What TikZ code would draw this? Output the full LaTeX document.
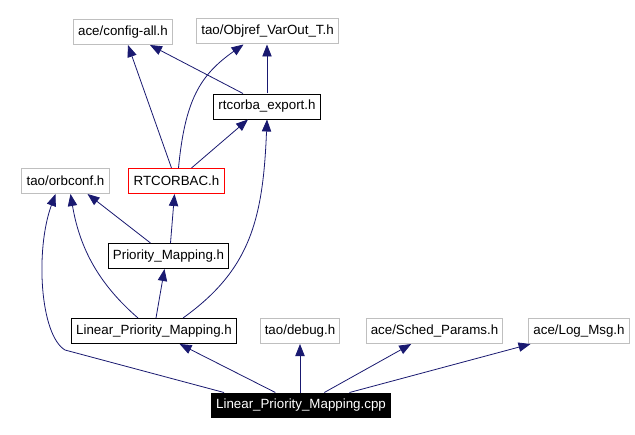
\documentclass[tikz,border=0pt]{standalone}
\usepackage{fontspec}
\setmainfont{Liberation Sans}
\usepackage{tikz}
\usetikzlibrary{positioning}
\usetikzlibrary{calc}
\usetikzlibrary{arrows.meta}
\definecolor{edgeblue}{RGB}{25,25,112}
\definecolor{extgray}{RGB}{191,191,191}
\tikzstyle{file} = [rectangle, minimum height=18.75pt, inner ysep=0pt, inner xsep=3.5pt, line width=0.75pt, font=\fontsize{10pt}{12pt}\selectfont]
\tikzstyle{block} = [file, draw=black]
\tikzstyle{ext} = [file, draw=extgray]
\tikzstyle{main} = [file, draw=red]
\tikzstyle{root} = [file, fill=black, text=white]
\tikzstyle{dep} = [->, draw=edgeblue, line width=0.6pt]

\begin{document}
\begin{tikzpicture}[x=0.75pt,y=-0.75pt,>={Triangle[length=9pt,width=7pt]}]
    \useasboundingbox (0,0) rectangle (635,435);
    \node [ext] (config) at (123,32) {ace/config-all.h};
    \node [ext] (objref) at (267.5,31.5) {tao/Objref\_VarOut\_T.h};
    \node [block] (rtcorba) at (267,106.5) {rtcorba\_export.h};
    \node [ext] (orbconf) at (65.5,181) {tao/orbconf.h};
    \node [main] (rtcorbac) at (176.5,181) {RTCORBAC.h};
    \node [block] (pm) at (168.5,256) {Priority\_Mapping.h};
    \node [block] (lpm) at (154,331) {Linear\_Priority\_Mapping.h};
    \node [ext] (debug) at (300,331) {tao/debug.h};
    \node [ext] (sched) at (434.5,331) {ace/Sched\_Params.h};
    \node [ext] (logmsg) at (579,331) {ace/Log\_Msg.h};
    \node [root] (cpp) at (301,405.5) {Linear\_Priority\_Mapping.cpp};

    \draw [dep] (cpp) -- (lpm);
    \draw [dep] (cpp.north -| debug) -- (debug);
    \draw [dep] (cpp) -- (sched);
    \draw [dep] (cpp) -- (logmsg);
    \draw [dep] ($(cpp.north)+(-77,0)$) -- (65,350) .. controls (40,335) and (35,250) .. ($(orbconf.south)+(-10,0)$);
    \draw [dep] ($(lpm.north)+(-16,0)$) .. controls (100,285) and (80,250) .. ($(orbconf.south)+(5,0)$);
    \draw [dep] ($(lpm.north)+(2,0)$) -- ($(pm.south)+(-4,0)$);
    \draw [dep] ($(lpm.north)+(29,0)$) .. controls (250,270) and (263,220) .. (rtcorba.south);
    \draw [dep] ($(pm.north)+(-18,0)$) -- ($(orbconf.south)+(22,0)$);
    \draw [dep] ($(pm.north)+(2,0)$) -- ($(rtcorbac.south)+(-2,0)$);
    \draw [dep] ($(rtcorbac.north)+(-5,0)$) -- ($(config.south)+(5,0)$);
    \draw [dep] ($(rtcorbac.north)+(2,0)$) .. controls (185,100) and (200,75) .. ($(objref.south)+(-24,0)$);
    \draw [dep] ($(rtcorbac.north)+(15,0)$) -- ($(rtcorba.south)+(-19,0)$);
    \draw [dep] ($(rtcorba.north)+(-24,0)$) -- ($(config.south)+(27,0)$);
    \draw [dep] (rtcorba.north) -- (rtcorba.north |- objref.south);
\end{tikzpicture}
\end{document}
